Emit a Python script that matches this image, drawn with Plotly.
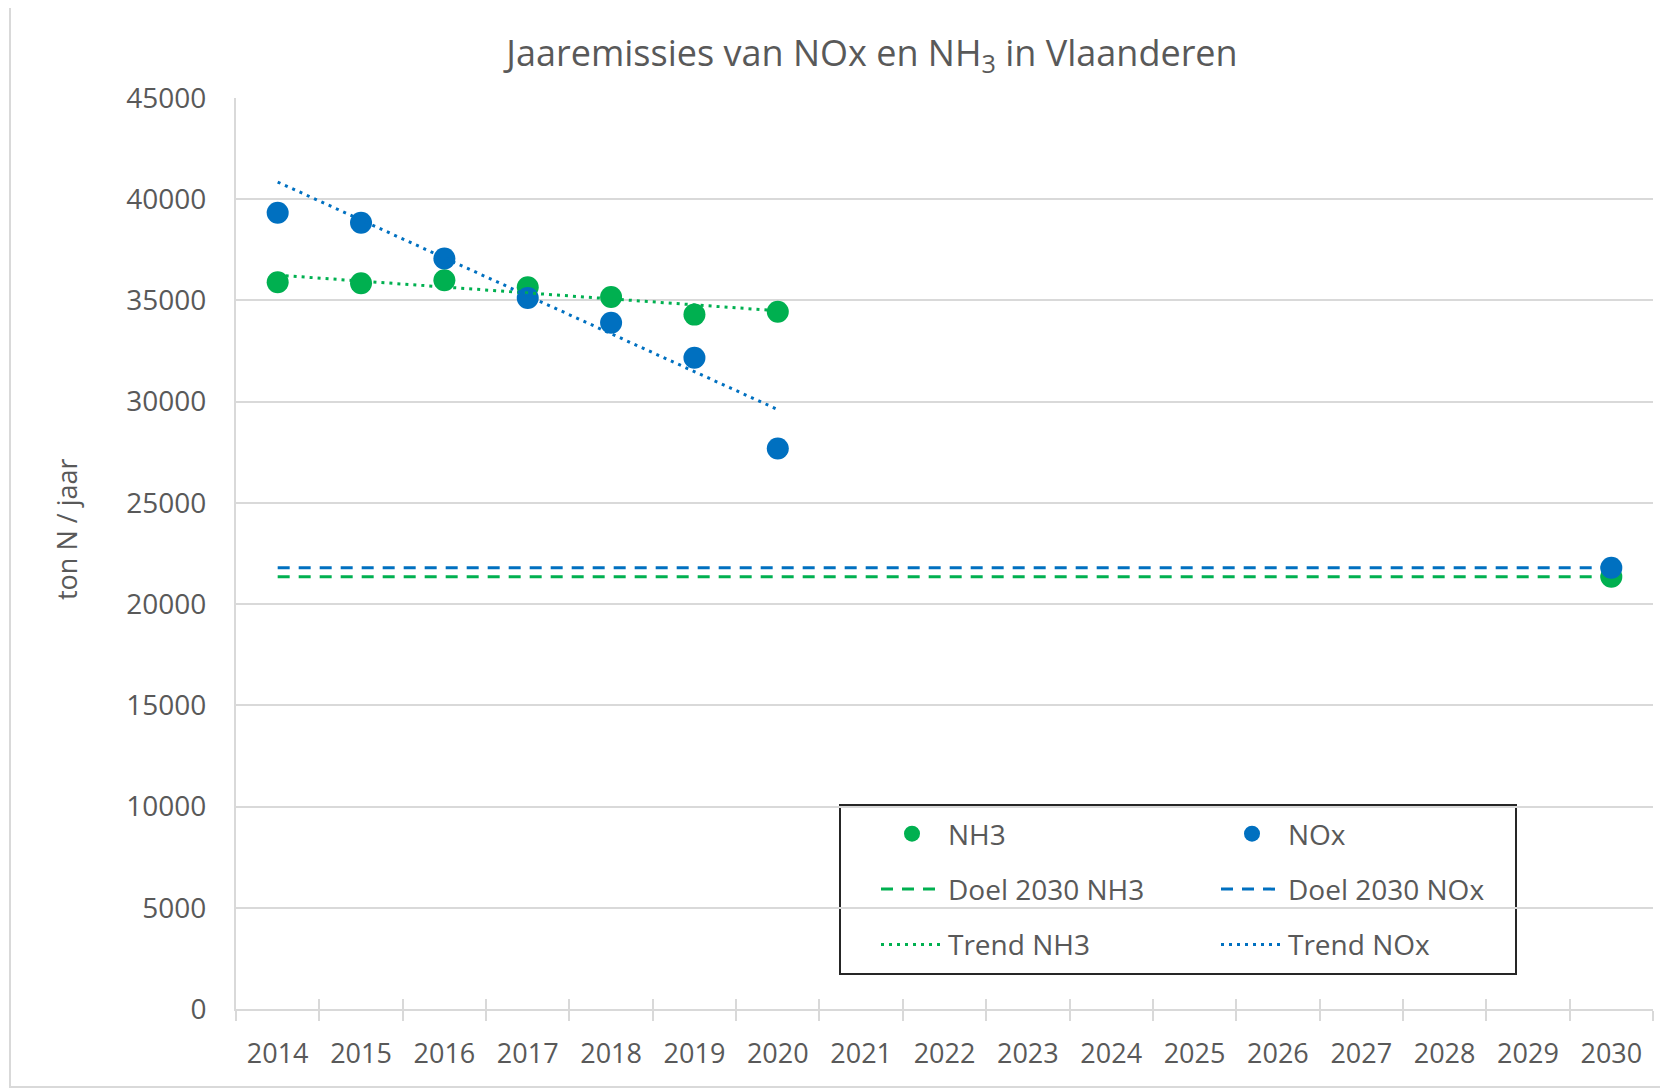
import plotly.graph_objects as go

# ---------------- data ----------------
years = ["2014", "2015", "2016", "2017", "2018", "2019", "2020", "2021", "2022",
         "2023", "2024", "2025", "2026", "2027", "2028", "2029", "2030"]
point_years = ["2014", "2015", "2016", "2017", "2018", "2019", "2020", "2030"]
nh3 = [35900, 35850, 36000, 35650, 35170, 34300, 34440, 21350]
nox = [39330, 38840, 37070, 35120, 33900, 32170, 27690, 21800]
doel_years = ["2014", "2030"]
doel_nh3 = [21350, 21350]
doel_nox = [21800, 21800]
trend_years = ["2014", "2020"]
trend_nh3 = [36250, 34490]
trend_nox = [40850, 29610]
y_ticks = [0, 5000, 10000, 15000, 20000, 25000, 30000, 35000, 40000, 45000]

GREEN = "#00B050"
BLUE = "#0070C0"
GRID = "#D9D9D9"
TXT = "#595959"
FONT = "Open Sans"

# page body has an 8px margin: figure coords = window coords - 8
OFF = 8
W, H = 1668 - OFF, 1090 - OFF
L, R, T, B = 236 - OFF, 15, 98 - OFF, 81
PW, PH = W - L - R, H - T - B


def px_x(p):
    """window pixel -> paper x"""
    return (p - OFF - L) / PW


def px_y(p):
    """window pixel -> paper y"""
    return (H - B - (p - OFF)) / PH


fig = go.Figure()

# invisible traces so all categories exist on both x axes
fig.add_trace(go.Scatter(x=years, y=[None] * len(years), mode="markers",
                         showlegend=False, hoverinfo="skip"))
fig.add_trace(go.Scatter(x=years, y=[None] * len(years), mode="markers", xaxis="x2",
                         showlegend=False, hoverinfo="skip"))

# target lines
fig.add_trace(go.Scatter(x=doel_years, y=doel_nh3, mode="lines", name="Doel 2030 NH3",
                         line=dict(color=GREEN, width=3, dash="12px,9px"),
                         legend="legend", legendgroup="g2", legendrank=2))
fig.add_trace(go.Scatter(x=doel_years, y=doel_nox, mode="lines", name="Doel 2030 NOx",
                         line=dict(color=BLUE, width=3, dash="12px,9px"),
                         legend="legend2", legendgroup="g5", legendrank=2))
# points
fig.add_trace(go.Scatter(x=point_years, y=nh3, mode="markers", name="NH3",
                         marker=dict(color=GREEN, size=22),
                         legend="legend", legendgroup="g1", legendrank=1))
fig.add_trace(go.Scatter(x=point_years, y=nox, mode="markers", name="NOx",
                         marker=dict(color=BLUE, size=22),
                         legend="legend2", legendgroup="g4", legendrank=1))
# trends
fig.add_trace(go.Scatter(x=trend_years, y=trend_nh3, mode="lines", name="Trend NH3",
                         line=dict(color=GREEN, width=3, dash="3px,5px"),
                         legend="legend", legendgroup="g3", legendrank=3))
fig.add_trace(go.Scatter(x=trend_years, y=trend_nox, mode="lines", name="Trend NOx",
                         line=dict(color=BLUE, width=3, dash="3px,5px"),
                         legend="legend2", legendgroup="g6", legendrank=3))

legend_common = dict(
    bgcolor="rgba(0,0,0,0)", borderwidth=0, font=dict(family=FONT, size=28, color=TXT),
    tracegroupgap=16, xanchor="left", yanchor="top", orientation="v", itemwidth=62,
)

fig.update_layout(
    width=W, height=H, autosize=False,
    margin=dict(l=L, r=R, t=T, b=B, pad=0),
    paper_bgcolor="white", plot_bgcolor="white",
    font=dict(family=FONT, color=TXT),
    title=dict(text="Jaaremissies van NOx en NH<sub>3</sub> in Vlaanderen",
               x=px_x(872), xref="paper", xanchor="center",
               y=1 - (53 - OFF) / H, yref="container", yanchor="middle",
               font=dict(family=FONT, size=36, color=TXT)),
    xaxis=dict(type="category", categoryorder="array", categoryarray=years,
               range=[-0.5, len(years) - 0.5], tickson="boundaries",
               ticks="outside", ticklen=10, tickwidth=2, tickcolor=GRID,
               showgrid=False, showline=True, linecolor=GRID, linewidth=2,
               zeroline=False, tickfont=dict(family=FONT, size=27, color=TXT),
               ticklabelstandoff=20, fixedrange=True),
    xaxis2=dict(type="category", categoryorder="array", categoryarray=years,
                range=[-0.5, len(years) - 0.5], tickson="boundaries",
                overlaying="x", anchor="y", side="bottom",
                ticks="inside", ticklen=10, tickwidth=2, tickcolor=GRID,
                showgrid=False, showline=False, showticklabels=False, zeroline=False),
    yaxis=dict(range=[0, 45000], tickvals=y_ticks, tickformat="d",
               showgrid=True, gridcolor=GRID, gridwidth=2,
               showline=True, linecolor=GRID, linewidth=2, zeroline=False,
               ticks="", tickfont=dict(family=FONT, size=28, color=TXT),
               ticklabelstandoff=22, fixedrange=True),
    legend=dict(x=px_x(876), y=px_y(809), **legend_common),
    legend2=dict(x=px_x(1216), y=px_y(809), **legend_common),
    showlegend=True,
)

# legend frame
fig.add_shape(type="rect", xref="paper", yref="paper",
              x0=px_x(840), x1=px_x(1516), y0=px_y(974), y1=px_y(805),
              line=dict(color="#262626", width=2), fillcolor="white", layer="between")
# outer chart border
fig.add_shape(type="rect", xref="paper", yref="paper",
              x0=px_x(10), x1=px_x(1720), y0=px_y(1087), y1=px_y(7),
              line=dict(color=GRID, width=2), fillcolor="rgba(0,0,0,0)", layer="below")

# y axis title
fig.add_annotation(text="ton N / jaar", xref="paper", yref="paper",
                   x=px_x(66), y=px_y(529), textangle=-90, showarrow=False,
                   xanchor="center", yanchor="middle",
                   font=dict(family=FONT, size=27, color=TXT))

fig.write_html("out.html")
